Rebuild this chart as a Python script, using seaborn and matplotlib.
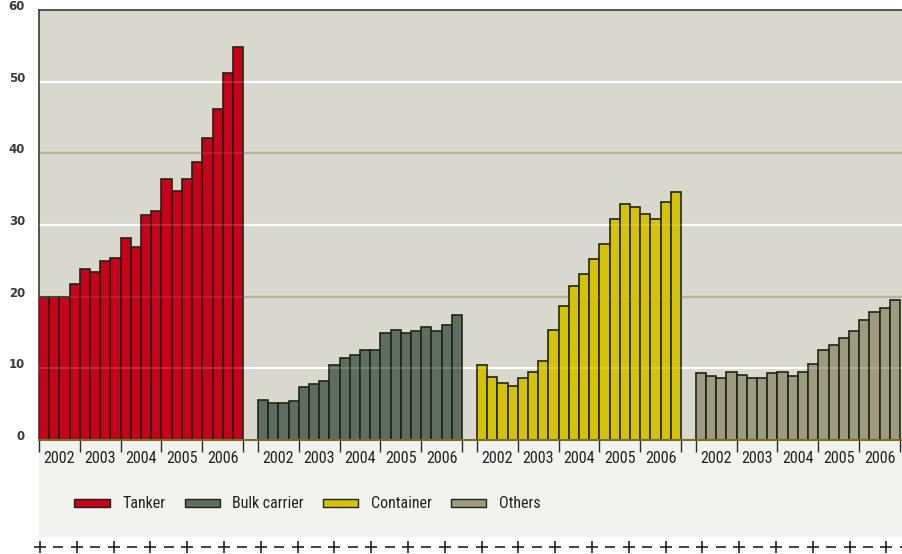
import matplotlib
matplotlib.use('Agg')
import matplotlib.pyplot as plt
from matplotlib.lines import Line2D
from matplotlib.patches import Rectangle, Patch
from matplotlib import font_manager
import matplotlib.transforms as mtrans
import seaborn as sns
import pandas as pd

# quarterly values 2002-2006 for each ship type
types = ['Tanker', 'Bulk carrier', 'Container', 'Others']
years = ['2002', '2003', '2004', '2005', '2006']
tanker = [20.0, 20.0, 20.0, 21.8, 23.9, 23.4, 25.0, 25.4, 28.2, 26.9,
          31.4, 31.9, 36.4, 34.7, 36.4, 38.8, 42.1, 46.2, 51.2, 54.9]
bulk = [5.6, 5.2, 5.2, 5.4, 7.4, 7.8, 8.3, 10.4, 11.5, 11.9,
        12.5, 12.5, 15.0, 15.4, 15.0, 15.2, 15.8, 15.2, 16.1, 17.4]
container = [10.4, 8.8, 8.0, 7.6, 8.7, 9.5, 11.0, 15.3, 18.7, 21.5,
             23.2, 25.2, 27.4, 30.8, 33.0, 32.5, 31.6, 30.8, 33.2, 34.6]
others = [9.3, 8.9, 8.7, 9.5, 9.1, 8.7, 8.7, 9.3, 9.5, 8.9,
          9.5, 10.6, 12.6, 13.2, 14.3, 15.2, 16.7, 17.8, 18.4, 19.5]
yticks = [0, 10, 20, 30, 40, 50, 60]
colors = ['#c8001a', '#5e6c62', '#d6c300', '#9e9a80']

sns.set_style('white')

# pick a narrow font if one is installed
installed = {f.name for f in font_manager.fontManager.ttflist}
narrow = 'DejaVu Sans'
for name in ['Liberation Sans Narrow', 'DejaVu Sans Condensed', 'Roboto Condensed',
             'Open Sans Condensed', 'Noto Sans Condensed']:
    if name in installed:
        narrow = name
        break
plt.rcParams['font.family'] = [narrow, 'DejaVu Sans']

P = 21.45  # spacing between groups, in bar widths
rows = []
for g, vals in enumerate([tanker, bulk, container, others]):
    for i, v in enumerate(vals):
        rows.append({'x': g * P + i, 'value': v, 'type': types[g]})
df = pd.DataFrame(rows)

fig = plt.figure(figsize=(9.02, 5.54), dpi=100)
W, H = 902, 554
ax = fig.add_axes([39 / W, 1 - 440 / H, 863 / W, 430 / H])

# light strip below the chart
fig.add_artist(Rectangle((39 / W, 1 - 537 / H), 863 / W, 97 / H,
                         transform=fig.transFigure, facecolor='#f2f2ee',
                         edgecolor='none', zorder=0))

ax.set_facecolor('#d9d8ce')
for y in [10, 20, 30, 40, 50]:
    c = '#ffffff' if y % 20 else '#b8b39b'
    ax.axhline(y, color=c, lw=1.6, zorder=0)

sns.barplot(data=df, x='x', y='value', hue='type', palette=colors,
            native_scale=True, width=1, dodge=False, legend=False,
            edgecolor='#1e2414', linewidth=1.2, saturation=1, ax=ax, zorder=2)

for y in [10, 20, 30, 40, 50]:
    c = '#ffffff' if y % 20 else '#b8b39b'
    ax.axhline(y, color=c, lw=1.2, alpha=0.18, zorder=3)

ax.set_xlim(-0.5, 3 * P + 19.7)
ax.set_ylim(0, 60)
ax.set_xlabel('')
ax.set_ylabel('')

ticks = []
for g in range(4):
    for k in range(6):
        ticks.append(g * P - 0.5 + 4 * k)
ax.set_xticks(ticks)
ax.set_xticklabels([])
ax.tick_params(axis='x', direction='out', length=8.5, width=1, color='#2a2a22', bottom=True)
ax.set_yticks([])

# y labels, drawn as text so the font is fixed
ytrans = mtrans.blended_transform_factory(ax.transAxes, ax.transData) + \
    mtrans.ScaledTranslation(-14 / 100, 3.5 / 100, fig.dpi_scale_trans)
for v in yticks:
    ax.text(0, v, str(v), transform=ytrans, ha='right', va='center',
            fontsize=8.5, fontweight='bold', fontstretch='normal', color='#3a3a3a',
            family='DejaVu Sans', clip_on=False)

trans = mtrans.blended_transform_factory(ax.transData, ax.transAxes)
for g in range(4):
    for k, yr in enumerate(years):
        ax.text(g * P + 4 * k + 1.5, -0.042, yr, transform=trans, ha='center',
                va='center', fontsize=11.5, color='#222222')

for s in ['left', 'top']:
    ax.spines[s].set_color('#3a3a30')
    ax.spines[s].set_linewidth(1.2)
ax.spines['right'].set_visible(False)
ax.spines['bottom'].set_color('#7a6e2a')
ax.spines['bottom'].set_linewidth(1.5)
ax.spines['bottom'].set_zorder(4)

handles = [Patch(facecolor=c, edgecolor='#1e2414', linewidth=1) for c in colors]
fig.legend(handles, types, loc='center left', bbox_to_anchor=(60 / W, 1 - 504 / H),
           ncol=4, frameon=False, fontsize=11.5, handlelength=2.2, handleheight=0.45,
           handletextpad=0.8, columnspacing=1.2, labelcolor='#222222')

# plus / dash border along the bottom
xs_plus = [(40 + 36.8 * i) / W for i in range(24)]
xs_dash = [(58.4 + 36.8 * i) / W for i in range(24)]
yb = 1 - 547 / H
fig.add_artist(Line2D(xs_plus, [yb] * len(xs_plus), transform=fig.transFigure,
                      ls='none', marker='+', ms=8, mew=1.2, color='#222222'))
fig.add_artist(Line2D(xs_dash, [yb] * len(xs_dash), transform=fig.transFigure,
                      ls='none', marker='_', ms=7, mew=1.2, color='#222222'))

fig.savefig('out.png', dpi=100, facecolor='white')
